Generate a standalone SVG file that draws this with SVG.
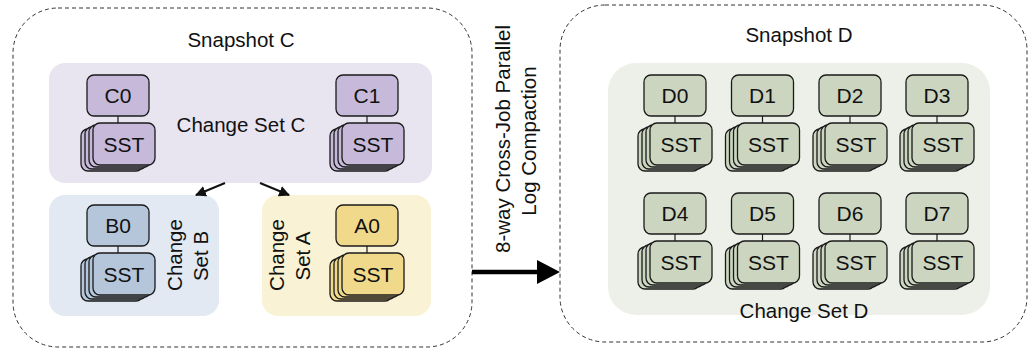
<svg xmlns="http://www.w3.org/2000/svg" xmlns:xlink="http://www.w3.org/1999/xlink" width="1029" height="350" viewBox="0 0 1029 350">
  <style>
    text { font-family: "Liberation Sans", Arial, sans-serif; fill: #111; }
    .lbl { font-size: 20.5px; text-anchor: middle; }
    .nt { font-size: 21px; text-anchor: middle; }
    .snap { fill: #fff; stroke: #333; stroke-width: 1; stroke-dasharray: 4 3; }
    .box { stroke: #1a1a1a; stroke-width: 1.3; }
    .tie { stroke: #1a1a1a; stroke-width: 1.2; }
    /* box fill is inherited from the node group */
    .purple { fill: #c6b9da; }
    .blue { fill: #b5c6db; }
    .yellow { fill: #f1d98b; }
    .green { fill: #ccd5c0; }
  </style>
  <defs>
    <!-- one log node: label box, tie line and a stack of four SST files -->
    <g id="node">
      <rect class="box" x="0" y="0" width="62" height="41" rx="7"/>
      <line class="tie" x1="31" y1="41" x2="31" y2="48"/>
      <rect class="box" x="-6" y="54" width="62" height="42" rx="7"/>
      <rect class="box" x="-2" y="52" width="62" height="42" rx="7"/>
      <rect class="box" x="2" y="50" width="62" height="42" rx="7"/>
      <rect class="box" x="6" y="48" width="62" height="42" rx="7"/>
      <text class="nt" x="37" y="76.5">SST</text>
    </g>
    <marker id="tip" viewBox="0 0 10 10" refX="9" refY="5" markerWidth="11" markerHeight="11" markerUnits="userSpaceOnUse" orient="auto">
      <path d="M0,0 L10,5 L0,10 Z" fill="#111"/>
    </marker>
  </defs>

  <!-- snapshot outlines -->
  <rect class="snap" x="13" y="8" width="459" height="339" rx="45"/>
  <rect class="snap" x="560" y="5" width="467" height="337" rx="45"/>
  <text class="lbl" x="241" y="47">Snapshot C</text>
  <text class="lbl" x="799" y="42">Snapshot D</text>

  <!-- change set regions -->
  <g id="changeset-c">
    <rect x="49" y="63" width="383" height="120" rx="16" fill="#e8e4f0"/>
    <text class="lbl" x="241" y="132">Change Set C</text>
  </g>
  <g id="changeset-b">
    <rect x="49" y="195" width="170" height="121" rx="16" fill="#e2e9f2"/>
    <text class="lbl" transform="translate(182,255) rotate(-90)">Change</text>
    <text class="lbl" transform="translate(208,256) rotate(-90)">Set B</text>
  </g>
  <g id="changeset-a">
    <rect x="262" y="195" width="169" height="121" rx="16" fill="#faf2d4"/>
    <text class="lbl" transform="translate(284,255) rotate(-90)">Change</text>
    <text class="lbl" transform="translate(310,256) rotate(-90)">Set A</text>
  </g>
  <g id="changeset-d">
    <rect x="608" y="63" width="382" height="252" rx="28" fill="#edf0e8"/>
    <text class="lbl" x="804" y="318">Change Set D</text>
  </g>

  <!-- nodes -->
  <g id="C0" class="purple" transform="translate(87,75)"><use xlink:href="#node"/><text class="nt" x="31" y="28">C0</text></g>
  <g id="C1" class="purple" transform="translate(336,75)"><use xlink:href="#node"/><text class="nt" x="31" y="28">C1</text></g>
  <g id="B0" class="blue" transform="translate(87,205)"><use xlink:href="#node"/><text class="nt" x="31" y="28">B0</text></g>
  <g id="A0" class="yellow" transform="translate(336,205)"><use xlink:href="#node"/><text class="nt" x="31" y="28">A0</text></g>

  <g id="D0" class="green" transform="translate(644,75)"><use xlink:href="#node"/><text class="nt" x="31" y="28">D0</text></g>
  <g id="D1" class="green" transform="translate(731.5,75)"><use xlink:href="#node"/><text class="nt" x="31" y="28">D1</text></g>
  <g id="D2" class="green" transform="translate(819,75)"><use xlink:href="#node"/><text class="nt" x="31" y="28">D2</text></g>
  <g id="D3" class="green" transform="translate(906,75)"><use xlink:href="#node"/><text class="nt" x="31" y="28">D3</text></g>
  <g id="D4" class="green" transform="translate(644,193)"><use xlink:href="#node"/><text class="nt" x="31" y="28">D4</text></g>
  <g id="D5" class="green" transform="translate(731.5,193)"><use xlink:href="#node"/><text class="nt" x="31" y="28">D5</text></g>
  <g id="D6" class="green" transform="translate(819,193)"><use xlink:href="#node"/><text class="nt" x="31" y="28">D6</text></g>
  <g id="D7" class="green" transform="translate(906,193)"><use xlink:href="#node"/><text class="nt" x="31" y="28">D7</text></g>

  <!-- connectors -->
  <g id="connectors">
    <line x1="225" y1="183" x2="196" y2="195" stroke="#111" stroke-width="2" marker-end="url(#tip)"/>
    <line x1="260" y1="183" x2="289" y2="195" stroke="#111" stroke-width="2" marker-end="url(#tip)"/>
    <line x1="472" y1="272" x2="540" y2="272" stroke="#000" stroke-width="4.5"/>
    <path d="M537,260 L560,272 L537,284 Z" fill="#000"/>
    <text class="lbl" transform="translate(510,139) rotate(-90)">8-way Cross-Job Parallel</text>
    <text class="lbl" transform="translate(536,141) rotate(-90)">Log Compaction</text>
  </g>
</svg>
